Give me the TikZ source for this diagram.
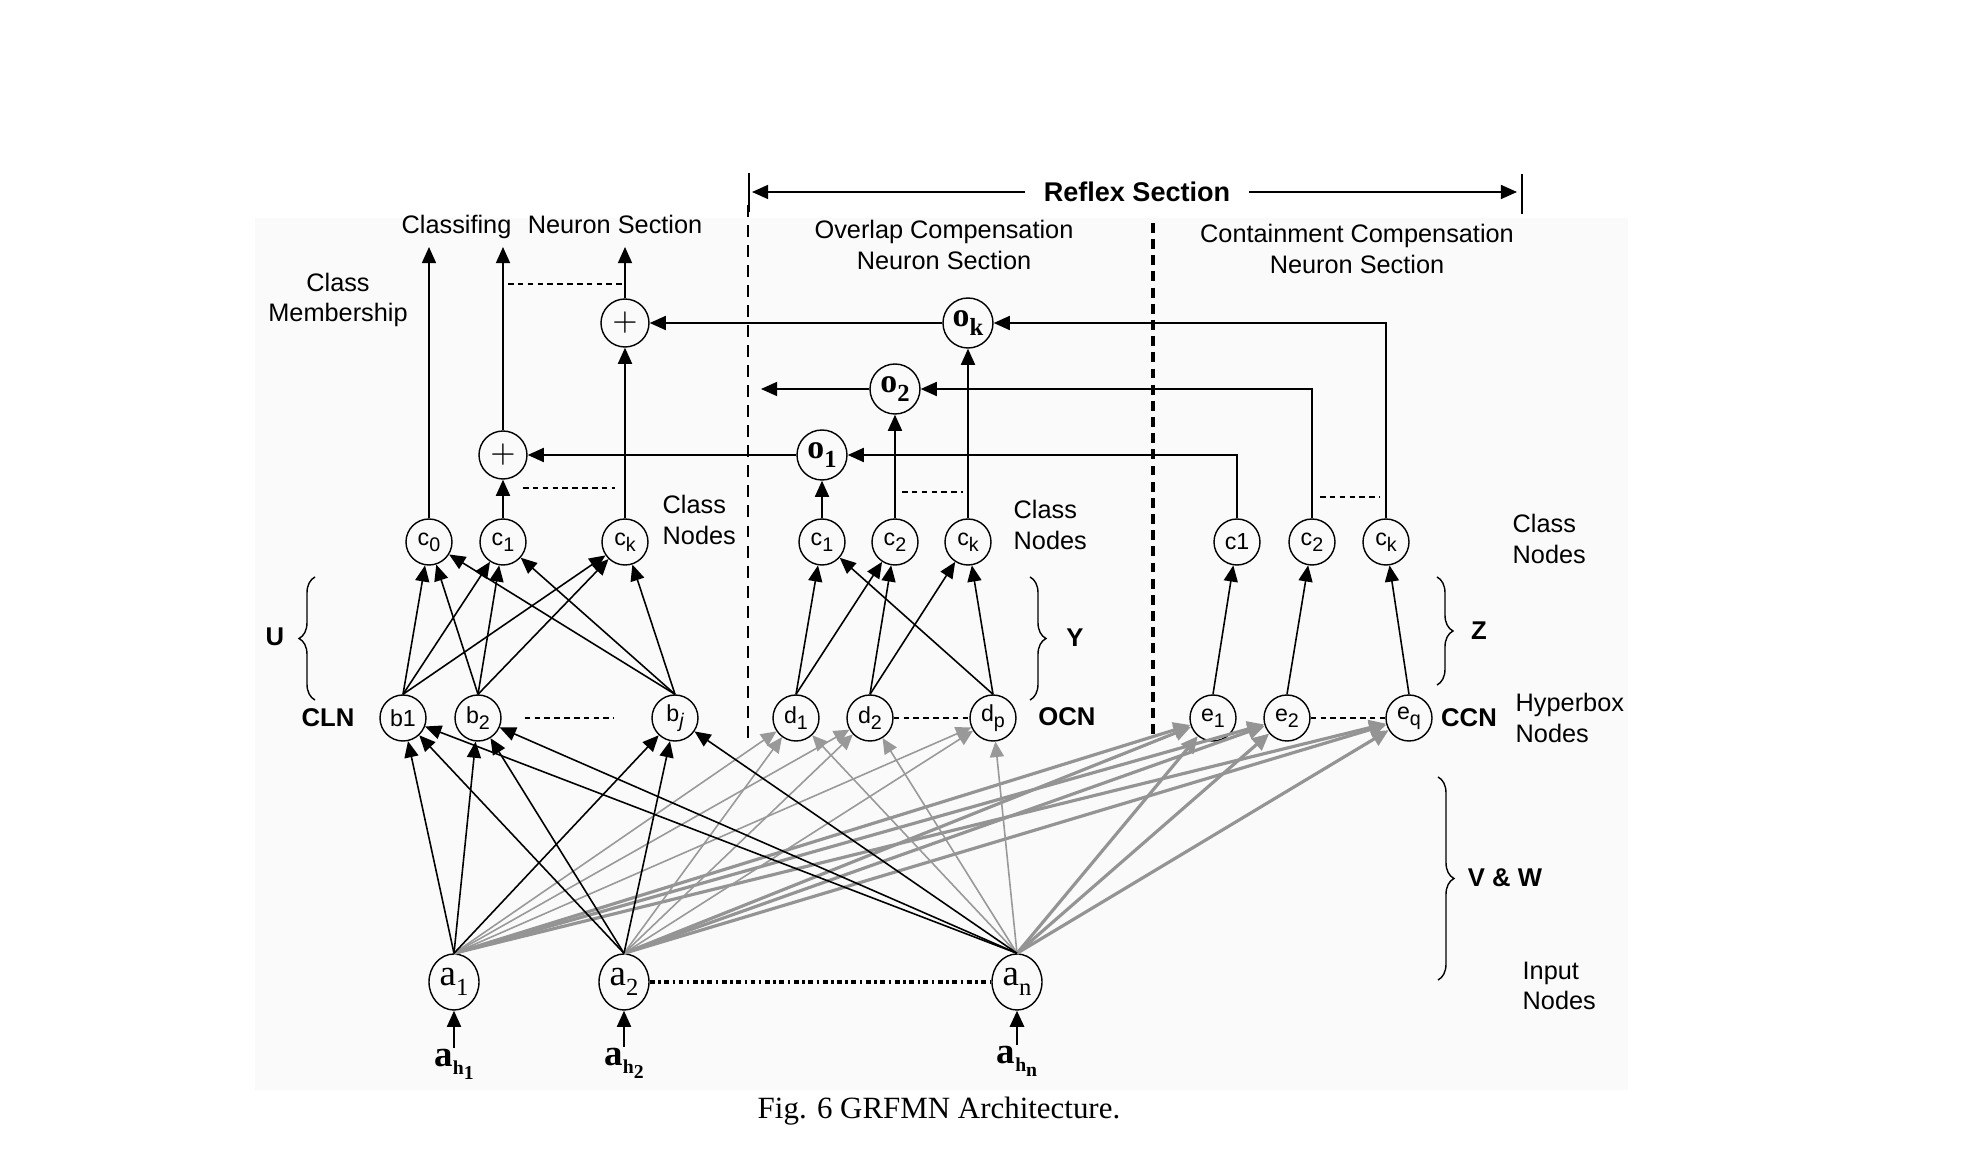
\documentclass[tikz,border=0pt]{standalone}
\usepackage{fontspec}
\setmainfont{Liberation Sans}
\newfontfamily\serifrm{Liberation Serif}
\usetikzlibrary{arrows.meta,shapes.geometric,decorations.pathreplacing}

\newcommand{\lsub}[1]{\raisebox{-0.5ex}{\fontsize{5.6}{6}\selectfont #1}}
\newcommand{\bsub}[1]{\raisebox{-0.55ex}{\fontsize{7}{7}\selectfont #1}}

\begin{document}
\begin{tikzpicture}[
    neuron/.style={circle, draw, thin, minimum size=0.46cm, inner sep=0pt, font=\fontsize{6.6}{7}\selectfont},
    onode/.style={circle, draw, thin, minimum size=0.5cm, inner sep=0pt, font=\fontsize{9.6}{10}\selectfont\serifrm\bfseries},
    sumnode/.style={circle, draw, thin, minimum size=0.48cm, inner sep=0pt, font=\fontsize{9}{9}\selectfont},
    inode/.style={ellipse, draw, thin, minimum width=0.5cm, minimum height=0.56cm, inner sep=0pt, font=\fontsize{10.5}{11}\selectfont\serifrm},
    lbl/.style={inner sep=0pt, align=center, font=\fontsize{7.2}{8.6}\selectfont},
    lbll/.style={lbl, align=left, anchor=west},
    bl/.style={inner sep=0pt, font=\fontsize{7.3}{8}\selectfont\bfseries},
    inlbl/.style={font=\fontsize{10.5}{11}\selectfont\serifrm\bfseries, inner sep=0pt, anchor=north},
    conn/.style={-{Triangle[length=4.6pt,width=4pt]}, line width=0.5pt},
    wblack/.style={-{Triangle[length=4.6pt,width=4pt]}, line width=0.45pt},
    wgray/.style={-{Triangle[length=4.4pt,width=4pt]}, draw=black!40, line width=0.45pt},
    wthick/.style={-{Triangle[length=4.8pt,width=4.4pt]}, draw=black!42, line width=0.9pt},
    gap/.style={dash pattern=on 1.6pt off 1.2pt, thin},
    sidebrace/.style={decorate, decoration={brace, amplitude=0.16cm}, thin}
]
\useasboundingbox (0,0) rectangle (19.76,11.74);
\fill[black!2] (2.55,0.84) rectangle (16.28,9.56);

% Reflex section heading
\node[bl, font=\fontsize{7.7}{8}\selectfont\bfseries] (reflex) at (11.37,9.82) {Reflex Section};
\coordinate (rl) at (7.49,9.82);
\coordinate (rr) at (15.22,9.82);
\draw[conn] ([xshift=-0.18cm]reflex.west) -- ([xshift=0.03cm]rl);
\draw[conn] ([xshift=0.18cm]reflex.east) -- ([xshift=-0.05cm]rr);
\draw ([yshift=-0.2cm]rl) -- ([yshift=0.19cm]rl);
\draw ([yshift=-0.22cm]rr) -- ([yshift=0.18cm]rr);

% Section separators
\draw[dash pattern=on 3.4pt off 2.3pt, thin] (7.48,9.69) -- (7.48,4.34);
\draw[dash pattern=on 2.8pt off 1.8pt, line width=0.9pt] (11.53,9.51) -- (11.53,4.36);

% Section titles and labels
\node[lbl] (tcls) at (5.52,9.47) {Classifing\hspace{0.65em}Neuron Section};
\node[lbl] (tmem) at (3.38,8.74) {Class\\Membership};
\node[lbl] (tocn) at (9.44,9.29) {Overlap Compensation\\Neuron Section};
\node[lbl] (tccn) at (13.57,9.25) {Containment Compensation\\Neuron Section};
\node[lbll] (cn1) at (6.62,6.54) {Class\\Nodes};
\node[lbll] (cn2) at (10.13,6.49) {Class\\Nodes};
\node[lbll] (cn3) at (15.12,6.35) {Class\\Nodes};
\node[lbll] (hyp) at (15.15,4.56) {Hyperbox\\Nodes};
\node[lbll] (inp) at (15.22,1.88) {Input\\Nodes};
\node[bl] (lcln) at (3.28,4.56) {CLN};
\node[bl] (locn) at (10.67,4.57) {OCN};
\node[bl] (lccn) at (14.69,4.56) {CCN};

% Braces
\draw[sidebrace] (3.15,4.74) -- (3.15,5.97);
\node[bl] (lu) at (2.75,5.37) {U};
\draw[sidebrace] (10.30,5.97) -- (10.30,4.74);
\node[bl] (ly) at (10.75,5.36) {Y};
\draw[sidebrace] (14.37,5.97) -- (14.37,4.89);
\node[bl] (lz) at (14.79,5.43) {Z};
\draw[sidebrace] (14.38,3.97) -- (14.38,1.94);
\node[bl] (lvw) at (15.05,2.96) {V \& W};

% Class nodes
\node[neuron] (c0)  at (4.29,6.32) {c\lsub{0}};
\node[neuron] (cl1) at (5.03,6.32) {c\lsub{1}};
\node[neuron] (clk) at (6.25,6.32) {c\lsub{k}};
\node[neuron] (co1) at (8.22,6.32) {c\lsub{1}};
\node[neuron] (co2) at (8.95,6.32) {c\lsub{2}};
\node[neuron] (cok) at (9.68,6.32) {c\lsub{k}};
\node[neuron] (cc1) at (12.37,6.32) {c1};
\node[neuron] (cc2) at (13.12,6.32) {c\lsub{2}};
\node[neuron] (cck) at (13.86,6.32) {c\lsub{k}};

% Hyperbox nodes
\node[neuron] (b1) at (4.03,4.56) {b1};
\node[neuron] (b2) at (4.78,4.56) {b\lsub{2}};
\node[neuron] (bj) at (6.75,4.56) {b\lsub{\itshape j}};
\node[neuron] (d1) at (7.96,4.56) {d\lsub{1}};
\node[neuron] (d2) at (8.70,4.56) {d\lsub{2}};
\node[neuron] (dp) at (9.93,4.56) {d\lsub{p}};
\node[neuron] (e1) at (12.13,4.56) {e\lsub{1}};
\node[neuron] (e2) at (12.87,4.56) {e\lsub{2}};
\node[neuron] (eq) at (14.09,4.56) {e\lsub{q}};

% Input nodes
\node[inode] (a1) at (4.54,1.92) {a\bsub{1}};
\node[inode] (a2) at (6.24,1.92) {a\bsub{2}};
\node[inode] (an) at (10.17,1.92) {a\bsub{n}};
\node[inlbl] (ah1) at (4.54,1.26) {a\lsub{h\lsub{1}}};
\node[inlbl] (ah2) at (6.24,1.27) {a\lsub{h\lsub{2}}};
\node[inlbl] (ahn) at (10.17,1.29) {a\lsub{h\lsub{n}}};

% Summing and compensation output nodes
\node[sumnode] (sa) at (6.25,8.51) {$+$};
\node[sumnode] (sb) at (5.03,7.19) {$+$};
\node[onode] (o1) at (8.22,7.19) {o\bsub{1}};
\node[onode] (o2) at (8.95,7.85) {o\bsub{2}};
\node[onode] (ok) at (9.68,8.51) {o\bsub{k}};
\coordinate (out0) at (4.29,9.27);
\coordinate (outb) at (5.03,9.27);
\coordinate (outa) at (6.25,9.27);
\coordinate (o2end) at (7.61,7.85);

% Outputs of the classifying section
\draw[conn] (c0) -- (out0);
\draw[conn] (cl1) -- (sb);
\draw[conn] (sb) -- (outb);
\draw[conn] (clk) -- (sa);
\draw[conn] (sa) -- (outa);
\draw[conn] (ok) -- (sa);
\draw[conn] (o1) -- (sb);
\draw[conn] (o2) -- (o2end);
\draw[gap] (5.08,8.90) -- (6.23,8.90);
\draw[gap] (5.23,6.86) -- (6.15,6.86);

% Compensation class nodes
\draw[conn] (co1) -- (o1);
\draw[conn] (co2) -- (o2);
\draw[conn] (cok) -- (ok);
\draw[conn] (cc1) |- (o1);
\draw[conn] (cc2) |- (o2);
\draw[conn] (cck) |- (ok);
\draw[gap] (9.02,6.82) -- (9.63,6.82);
\draw[gap] (13.20,6.77) -- (13.80,6.77);

% U, Y and Z weights
\foreach \s in {b1,b2,bj}
  \foreach \t in {c0,cl1,clk}
    \draw[wblack] (\s.north) -- (\t);
\foreach \s/\t in {d1/co1,d1/co2,d2/co2,d2/cok,dp/co1,dp/cok}
  \draw[wblack] (\s.north) -- (\t);
\foreach \s/\t in {e1/cc1,e2/cc2,eq/cck}
  \draw[wblack] (\s.north) -- (\t);

% V and W weights
\foreach \s in {a1,a2,an} {
  \foreach \t in {d1,d2,dp}
    \draw[wgray] (\s.north) -- (\t);
  \foreach \t in {e1,e2,eq}
    \draw[wthick] (\s.north) -- (\t);
  \foreach \t in {b1,b2,bj}
    \draw[wblack] (\s.north) -- (\t);
}
\draw[gap, shorten <=0.23cm, shorten >=0.37cm] (b2) -- (bj);
\draw[gap] (d2) -- (dp);
\draw[gap] (e2) -- (eq);
\draw[dash pattern=on 1.4pt off 1pt on 0.7pt off 1pt, line width=1pt] (a2) -- (an);

% Inputs
\draw[conn] (ah1) -- (a1);
\draw[conn] (ah2) -- (a2);
\draw[conn, line width=0.8pt] (ahn) -- (an);

\node[font=\fontsize{8.8}{10}\selectfont\serifrm] (cap) at (9.39,0.63) {Fig. 6 GRFMN Architecture.};
\end{tikzpicture}
\end{document}
